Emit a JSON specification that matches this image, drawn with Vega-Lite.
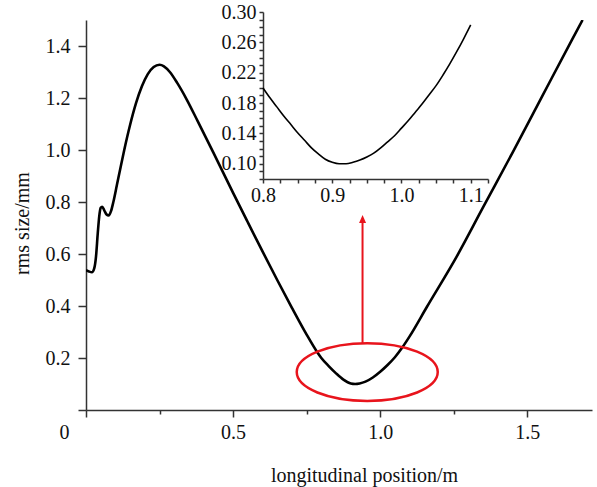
{
  "$schema": "https://vega.github.io/schema/vega-lite/v6.json",
  "autosize": "none",
  "padding": {"left": 86, "top": 20, "right": 5, "bottom": 77},
  "width": 506,
  "height": 390,
  "background": "white",
  "config": {
    "view": {"stroke": null},
    "font": "Liberation Serif",
    "axis": {
      "grid": false,
      "labelFont": "Liberation Serif",
      "titleFont": "Liberation Serif",
      "labelFontSize": 20,
      "titleFontSize": 20,
      "titleFontWeight": "normal",
      "labelColor": "#111",
      "titleColor": "#111",
      "domainColor": "#333",
      "tickColor": "#333",
      "domainWidth": 1.5,
      "tickWidth": 1.5
    }
  },
  "datasets": {
    "main": [
      {"x": 0.000, "y": 0.538},
      {"x": 0.010, "y": 0.533},
      {"x": 0.020, "y": 0.530},
      {"x": 0.028, "y": 0.545},
      {"x": 0.034, "y": 0.590},
      {"x": 0.040, "y": 0.680},
      {"x": 0.045, "y": 0.745},
      {"x": 0.050, "y": 0.778},
      {"x": 0.055, "y": 0.782},
      {"x": 0.062, "y": 0.768},
      {"x": 0.070, "y": 0.752},
      {"x": 0.077, "y": 0.748},
      {"x": 0.085, "y": 0.765},
      {"x": 0.093, "y": 0.800},
      {"x": 0.105, "y": 0.865},
      {"x": 0.116, "y": 0.925},
      {"x": 0.130, "y": 1.000},
      {"x": 0.150, "y": 1.097},
      {"x": 0.170, "y": 1.180},
      {"x": 0.190, "y": 1.245},
      {"x": 0.210, "y": 1.292},
      {"x": 0.230, "y": 1.319},
      {"x": 0.250, "y": 1.328},
      {"x": 0.265, "y": 1.322},
      {"x": 0.285, "y": 1.300},
      {"x": 0.310, "y": 1.258},
      {"x": 0.342, "y": 1.195},
      {"x": 0.380, "y": 1.110},
      {"x": 0.433, "y": 0.990},
      {"x": 0.500, "y": 0.835},
      {"x": 0.550, "y": 0.722},
      {"x": 0.600, "y": 0.610},
      {"x": 0.650, "y": 0.500},
      {"x": 0.700, "y": 0.393},
      {"x": 0.750, "y": 0.290},
      {"x": 0.785, "y": 0.224},
      {"x": 0.800, "y": 0.200},
      {"x": 0.825, "y": 0.169},
      {"x": 0.850, "y": 0.141},
      {"x": 0.875, "y": 0.117},
      {"x": 0.900, "y": 0.102},
      {"x": 0.915, "y": 0.100},
      {"x": 0.930, "y": 0.102},
      {"x": 0.950, "y": 0.109},
      {"x": 0.975, "y": 0.125},
      {"x": 1.000, "y": 0.147},
      {"x": 1.025, "y": 0.173},
      {"x": 1.050, "y": 0.203},
      {"x": 1.075, "y": 0.240},
      {"x": 1.100, "y": 0.283},
      {"x": 1.159, "y": 0.397},
      {"x": 1.260, "y": 0.590},
      {"x": 1.350, "y": 0.780},
      {"x": 1.450, "y": 0.990},
      {"x": 1.550, "y": 1.205},
      {"x": 1.650, "y": 1.420},
      {"x": 1.688, "y": 1.500}
    ],
    "inset": [
      {"x": 0.800, "y": 0.200},
      {"x": 0.810, "y": 0.187},
      {"x": 0.820, "y": 0.175},
      {"x": 0.830, "y": 0.163},
      {"x": 0.840, "y": 0.152},
      {"x": 0.850, "y": 0.141},
      {"x": 0.860, "y": 0.131},
      {"x": 0.870, "y": 0.121},
      {"x": 0.880, "y": 0.113},
      {"x": 0.890, "y": 0.106},
      {"x": 0.900, "y": 0.102},
      {"x": 0.910, "y": 0.100},
      {"x": 0.920, "y": 0.100},
      {"x": 0.930, "y": 0.102},
      {"x": 0.940, "y": 0.105},
      {"x": 0.950, "y": 0.109},
      {"x": 0.960, "y": 0.114},
      {"x": 0.970, "y": 0.121},
      {"x": 0.980, "y": 0.129},
      {"x": 0.990, "y": 0.137},
      {"x": 1.000, "y": 0.147},
      {"x": 1.010, "y": 0.157},
      {"x": 1.020, "y": 0.168},
      {"x": 1.030, "y": 0.179},
      {"x": 1.040, "y": 0.191},
      {"x": 1.050, "y": 0.203},
      {"x": 1.060, "y": 0.217},
      {"x": 1.070, "y": 0.232},
      {"x": 1.080, "y": 0.248},
      {"x": 1.090, "y": 0.265},
      {"x": 1.100, "y": 0.283}
    ],
    "ellipse": [{"x": 0.956, "y": 0.146}],
    "arrow": [{"x": 0.94, "y": 0.257, "y2": 0.722}],
    "arrowhead": [{"x": 0.94, "y": 0.735}]
  },
  "layer": [
    {
      "layer": [
        {
          "data": {"name": "main"},
          "mark": {"type": "line", "color": "black", "strokeWidth": 2.6, "clip": true, "interpolate": "monotone"},
          "encoding": {
            "x": {
              "field": "x", "type": "quantitative",
              "scale": {"domain": [0, 1.72], "nice": false, "zero": false},
              "axis": {
                "title": "longitudinal position/m",
                "values": [0, 0.25, 0.5, 0.75, 1.0, 1.25, 1.5],
                "labelExpr": "datum.value == 0 ? '0' : (round(datum.value * 100) % 50 == 0 ? format(datum.value, '.1f') : '')",
                "tickSize": 7,
                "tickDash": {"condition": {"test": "round(datum.value * 100) % 50 == 0", "value": [20, 0]}, "value": [4, 10]},
                "labelOffset": {"condition": {"test": "datum.value == 0", "value": -22}, "value": 0},
                "labelPadding": 5,
                "labelFlush": false,
                "labelOverlap": false,
                "titleX": 278,
                "titleY": 65,
                "titleAnchor": "middle",
                "titleAlign": "center",
                "titleBaseline": "middle"
              }
            },
            "y": {
              "field": "y", "type": "quantitative",
              "scale": {"domain": [0, 1.5], "nice": false, "zero": false},
              "axis": {
                "title": "rms size/mm",
                "values": [0, 0.1, 0.2, 0.3, 0.4, 0.5, 0.6, 0.7, 0.8, 0.9, 1.0, 1.1, 1.2, 1.3, 1.4],
                "labelExpr": "datum.value == 0 ? '' : (round(datum.value * 10) % 2 == 0 ? format(datum.value, '.1f') : '')",
                "tickSize": 8,
                "tickDash": {"condition": {"test": "round(datum.value * 10) % 2 == 0", "value": [20, 0]}, "value": [4, 10]},
                "labelPadding": 8,
                "labelFlush": false,
                "labelOverlap": false,
                "titleX": -64,
                "titleY": 203,
                "titleAngle": 270,
                "titleAlign": "center",
                "titleBaseline": "middle"
              }
            }
          }
        },
        {
          "data": {"name": "ellipse"},
          "mark": {
            "type": "point",
            "shape": "M-1,0A1,0.41,0,1,0,1,0A1,0.41,0,1,0,-1,0Z",
            "size": 19881,
            "filled": false,
            "stroke": "#e8141c",
            "strokeWidth": 2.5,
            "opacity": 1
          },
          "encoding": {
            "x": {"field": "x", "type": "quantitative"},
            "y": {"field": "y", "type": "quantitative"}
          }
        },
        {
          "data": {"name": "arrow"},
          "mark": {"type": "rule", "color": "#e8141c", "strokeWidth": 2},
          "encoding": {
            "x": {"field": "x", "type": "quantitative"},
            "y": {"field": "y", "type": "quantitative"},
            "y2": {"field": "y2"}
          }
        },
        {
          "data": {"name": "arrowhead"},
          "mark": {
            "type": "point",
            "shape": "M0,-1L0.875,1L-0.875,1Z",
            "size": 64,
            "filled": true,
            "fill": "#e8141c",
            "stroke": null,
            "opacity": 1
          },
          "encoding": {
            "x": {"field": "x", "type": "quantitative"},
            "y": {"field": "y", "type": "quantitative"}
          }
        }
      ]
    },
    {
      "data": {"name": "inset"},
      "mark": {"type": "line", "color": "black", "strokeWidth": 1.6, "interpolate": "monotone"},
      "encoding": {
        "x": {
          "field": "x", "type": "quantitative",
          "scale": {"domain": [0.8, 1.125], "range": [177, 402], "nice": false, "zero": false},
          "axis": {
            "orient": "bottom",
            "offset": -231,
            "title": null,
            "values": [0.8, 0.825, 0.85, 0.875, 0.9, 0.925, 0.95, 0.975, 1.0, 1.025, 1.05, 1.075, 1.1, 1.125],
            "labelExpr": "round(datum.value * 1000) % 100 == 0 ? format(datum.value, '.1f') : ''",
            "tickSize": 4,
            "labelPadding": 2,
            "labelFlush": false,
            "labelOverlap": false
          }
        },
        "y": {
          "field": "y", "type": "quantitative",
          "scale": {"domain": [0.08, 0.30], "range": [159, -8], "nice": false, "zero": false},
          "axis": {
            "orient": "left",
            "offset": -177,
            "title": null,
            "values": [0.08, 0.09, 0.10, 0.11, 0.12, 0.13, 0.14, 0.15, 0.16, 0.17, 0.18, 0.19, 0.20, 0.21, 0.22, 0.23, 0.24, 0.25, 0.26, 0.27, 0.28, 0.29, 0.30],
            "labelExpr": "indexof(['0.10','0.14','0.18','0.22','0.26','0.30'], format(datum.value, '.2f')) >= 0 ? format(datum.value, '.2f') : ''",
            "tickSize": 4,
            "labelPadding": 3,
            "labelFlush": false,
            "labelOverlap": false,
            "labelBaseline": "middle"
          }
        }
      }
    }
  ],
  "resolve": {
    "scale": {"x": "independent", "y": "independent"},
    "axis": {"x": "independent", "y": "independent"}
  }
}
